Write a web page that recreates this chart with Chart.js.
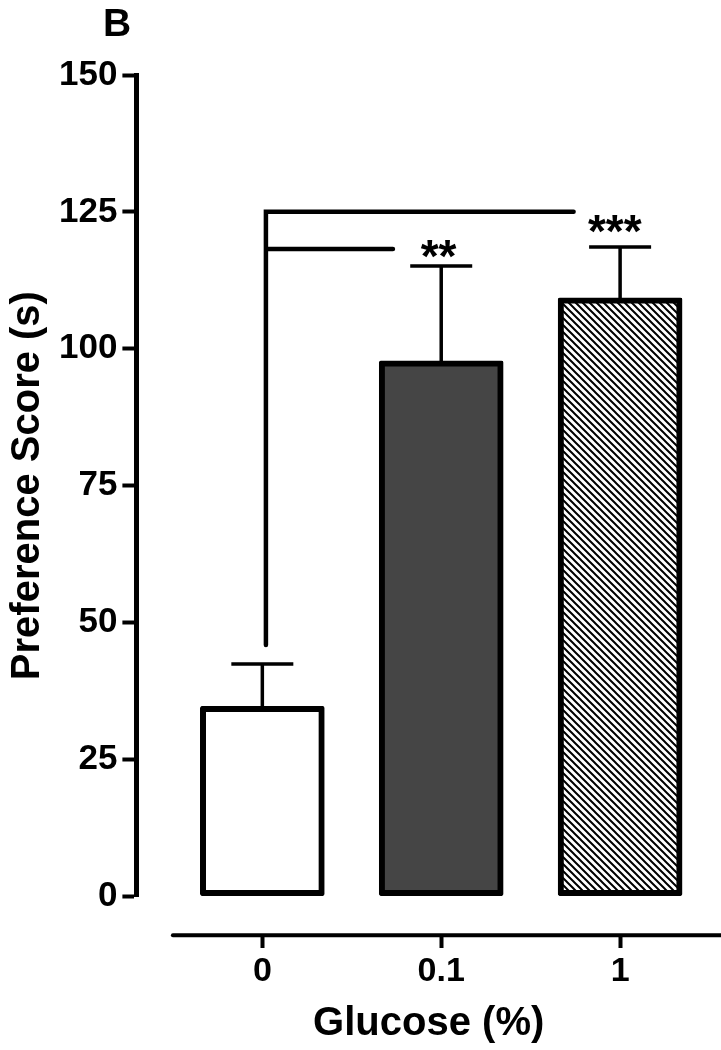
<!DOCTYPE html>
<html lang="en">
<head>
  <meta charset="UTF-8" />
  <title>Preference Score</title>
  <script src="https://cdn.jsdelivr.net/npm/chart.js"></script>
  <style>
    body { margin: 0; background: #fff; }
    #wrap { width: 721px; height: 1050px; }
  </style>
</head>
<body>
  <div id="wrap"><canvas id="scoreChart"></canvas></div>

  <script>
    // data
    const doses = ['0', '0.1', '1'];
    const scores = [34.7, 97.8, 109.3];
    const sems = [7.7, 17.3, 9.3];

    // significance brackets, in axis units: [x from, x to, y]
    const bracketTop = [0.02, 1.74, 125];
    const bracketLow = [0.02, 0.73, 118.2];
    const bracketFoot = 45.9;
    const stars = ['**', '***'];
    const starX = [0.985, 1.97];
    const starY = [118.8, 123.5];

    const FONT = "'Liberation Sans', Arial, sans-serif";
    const axisGap = 39; // x axis line sits below the zero line

    // hatch for the 1% bar
    function hatch() {
      const s = 7;
      const c = document.createElement('canvas');
      c.width = s; c.height = s;
      const g = c.getContext('2d');
      g.fillStyle = '#fff';
      g.fillRect(0, 0, s, s);
      g.strokeStyle = '#000';
      g.lineWidth = 2;
      g.beginPath();
      g.moveTo(-1, -1); g.lineTo(s + 1, s + 1);
      g.moveTo(-1, s - 1); g.lineTo(1, s + 1);
      g.moveTo(s - 1, -1); g.lineTo(s + 1, 1);
      g.stroke();
      return document.createElement('canvas').getContext('2d').createPattern(c, 'repeat');
    }

    const extras = {
      id: 'extras',
      afterDatasetsDraw(chart) {
        const { ctx, scales: { x, y } } = chart;
        ctx.save();
        ctx.strokeStyle = '#000';
        ctx.fillStyle = '#000';

        // error bars (upper only)
        ctx.lineWidth = 3.5;
        ctx.lineCap = 'butt';
        scores.forEach((s, i) => {
          const cx = x.getPixelForValue(i);
          const top = y.getPixelForValue(s + sems[i]);
          ctx.beginPath();
          ctx.moveTo(cx, y.getPixelForValue(s) + 3);
          ctx.lineTo(cx, top);
          ctx.moveTo(cx - 31, top);
          ctx.lineTo(cx + 31, top);
          ctx.stroke();
        });

        // x axis line, detached from the plot
        const ay = x.top + axisGap;
        ctx.lineWidth = 4;
        ctx.lineCap = 'round';
        ctx.beginPath();
        ctx.moveTo(x.getPixelForValue(-0.5), ay);
        ctx.lineTo(chart.width, ay);
        ctx.stroke();

        // brackets
        ctx.lineWidth = 4.5;
        ctx.beginPath();
        ctx.moveTo(x.getPixelForValue(bracketTop[0]), y.getPixelForValue(bracketFoot));
        ctx.lineTo(x.getPixelForValue(bracketTop[0]), y.getPixelForValue(bracketTop[2]));
        ctx.lineTo(x.getPixelForValue(bracketTop[1]), y.getPixelForValue(bracketTop[2]));
        ctx.moveTo(x.getPixelForValue(bracketLow[0]), y.getPixelForValue(bracketLow[2]));
        ctx.lineTo(x.getPixelForValue(bracketLow[1]), y.getPixelForValue(bracketLow[2]));
        ctx.stroke();

        // stars
        ctx.font = 'bold 46px ' + FONT;
        ctx.textAlign = 'center';
        ctx.textBaseline = 'alphabetic';
        stars.forEach((t, i) => {
          ctx.fillText(t, x.getPixelForValue(starX[i]), y.getPixelForValue(starY[i]) + 0.58 * 46);
        });

        // panel letter
        ctx.font = 'bold 39px ' + FONT;
        ctx.textBaseline = 'middle';
        ctx.fillText('B', 117, 25);
        ctx.restore();
      }
    };

    new Chart(document.getElementById('scoreChart'), {
      type: 'bar',
      data: {
        datasets: [{
          data: scores.map((v, i) => ({ x: i, y: v })),
          backgroundColor: ['#ffffff', '#454545', hatch()],
          borderColor: '#000',
          borderWidth: 6,
          borderSkipped: false,
          borderRadius: 2,
          barThickness: 124
        }]
      },
      options: {
        responsive: true,
        maintainAspectRatio: false,
        animation: false,
        layout: { padding: { left: 0, top: 75, right: 0, bottom: 2 } },
        plugins: {
          legend: { display: false },
          tooltip: { enabled: false }
        },
        scales: {
          x: {
            type: 'linear',
            offset: false,
            min: -0.704,
            max: 2.564,
            afterBuildTicks: (s) => { s.ticks = doses.map((d, i) => ({ value: i })); },
            ticks: {
              autoSkip: false,
              maxRotation: 0,
              padding: 3,
              color: '#000',
              font: { family: FONT, size: 34, weight: 'bold' },
              callback: (v) => doses[v]
            },
            grid: {
              offset: false,
              drawOnChartArea: false,
              tickLength: 52,
              tickWidth: 4,
              tickColor: '#000',
              tickBorderDash: [0, axisGap, 13, 1000]
            },
            border: { display: false },
            title: {
              display: true,
              text: 'Glucose (%)',
              color: '#000',
              font: { family: FONT, size: 40, weight: 'bold' },
              padding: { top: 5, bottom: 0 }
            }
          },
          y: {
            min: 0,
            max: 150,
            ticks: {
              stepSize: 25,
              padding: 5,
              color: '#000',
              font: { family: FONT, size: 35, weight: 'bold' }
            },
            grid: {
              drawOnChartArea: false,
              tickLength: 14,
              tickWidth: 4,
              tickColor: '#000'
            },
            border: { display: true, color: '#000', width: 5 },
            title: {
              display: true,
              text: 'Preference Score (s)',
              color: '#000',
              font: { family: FONT, size: 40, weight: 'bold' },
              padding: { top: 4, bottom: 2 }
            }
          }
        }
      },
      plugins: [extras]
    });
  </script>
</body>
</html>
